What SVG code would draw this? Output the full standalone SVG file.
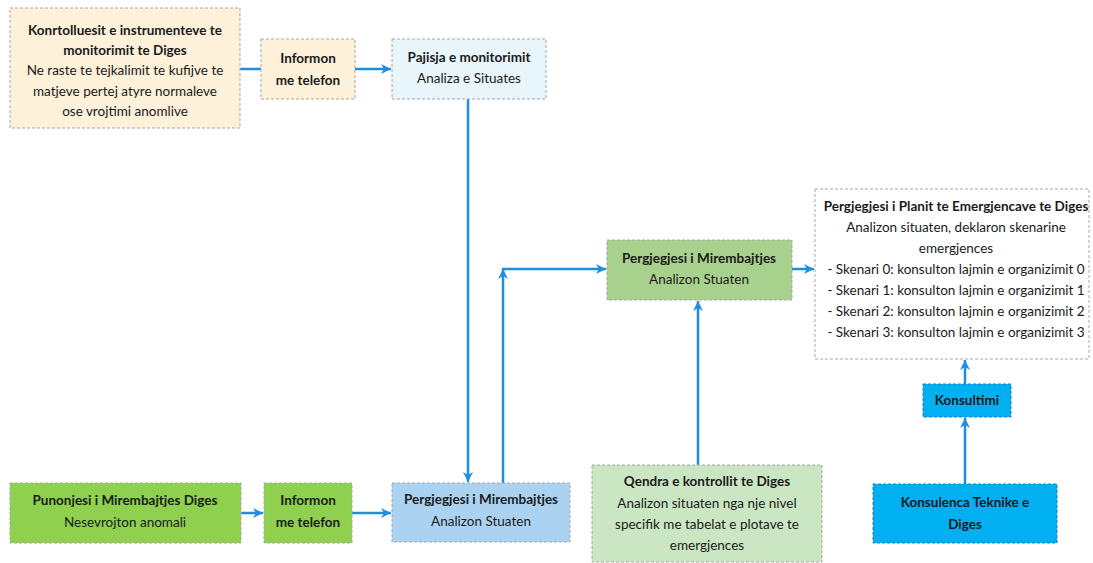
<svg xmlns="http://www.w3.org/2000/svg" width="1093" height="563" viewBox="0 0 1093 563">
<style>
  .box { stroke: #a6a6a6; stroke-width: 1; stroke-dasharray: 3 2; }
  .t { font-family: Lato, "Liberation Sans", sans-serif; font-size: 13.5px; fill: #1a1a1a; text-anchor: middle; }
  .b { font-weight: bold; }
  .c { fill: none; stroke: #1e8fe0; stroke-width: 2.5; }
  .peach { fill: #fdf1da; }
  .pale { fill: #e8f5fb; }
  .lime { fill: #8fd14f; }
  .sky { fill: #acd2f1; }
  .mid { fill: #a9d18e; }
  .mint { fill: #cbe6c2; }
  .white { fill: #ffffff; }
  .cyan { fill: #00b0f0; stroke: #1a7fc0; }
</style>
<defs>
  <marker id="ah" markerUnits="userSpaceOnUse" markerWidth="11" markerHeight="10" refX="10" refY="5" orient="auto">
    <path d="M0,0 L10,5 L0,10 L3,5 z" fill="#1e8fe0"/>
  </marker>
</defs>
<rect width="1093" height="563" fill="#ffffff"/>

<g id="connectors">
  <line class="c" x1="240" y1="69" x2="261" y2="69"/>
  <line class="c" x1="355" y1="69" x2="391" y2="69" marker-end="url(#ah)"/>
  <line class="c" x1="468" y1="99" x2="468" y2="482" marker-end="url(#ah)"/>
  <line class="c" x1="241" y1="513" x2="263" y2="513" marker-end="url(#ah)"/>
  <line class="c" x1="352" y1="513" x2="391" y2="513" marker-end="url(#ah)"/>
  <line class="c" x1="503" y1="483" x2="503" y2="269" marker-end="url(#ah)"/>
  <line class="c" x1="502" y1="269" x2="606" y2="269" marker-end="url(#ah)"/>
  <line class="c" x1="792" y1="269" x2="814" y2="269" marker-end="url(#ah)"/>
  <line class="c" x1="698" y1="465" x2="698" y2="301" marker-end="url(#ah)"/>
  <line class="c" x1="965" y1="384" x2="965" y2="360" marker-end="url(#ah)"/>
  <line class="c" x1="965" y1="484" x2="965" y2="418" marker-end="url(#ah)"/>
</g>

<g id="kontrolluesit">
  <rect class="box peach" x="10" y="8" width="230" height="120"/>
  <text class="t b" x="125" y="35">Konrtolluesit e instrumenteve te</text>
  <text class="t b" x="125" y="55">monitorimit te Diges</text>
  <text class="t" x="125" y="75">Ne raste te tejkalimit te kufijve te</text>
  <text class="t" x="125" y="96">matjeve pertej atyre normaleve</text>
  <text class="t" x="125" y="116">ose vrojtimi anomlive</text>
</g>

<g id="informon-top">
  <rect class="box peach" x="261" y="39" width="94" height="60"/>
  <text class="t b" x="308" y="63">Informon</text>
  <text class="t b" x="308" y="85">me telefon</text>
</g>

<g id="pajisja">
  <rect class="box pale" x="392" y="39" width="154" height="60"/>
  <text class="t b" x="469" y="62">Pajisja e monitorimit</text>
  <text class="t" x="469" y="83">Analiza e Situates</text>
</g>

<g id="pergjegjesi-mid">
  <rect class="box mid" x="607" y="240" width="185" height="60"/>
  <text class="t b" x="699" y="263">Pergjegjesi i Mirembajtjes</text>
  <text class="t" x="699" y="284">Analizon Stuaten</text>
</g>

<g id="plani">
  <rect class="box white" x="815" y="189" width="274" height="170"/>
  <text class="t b" x="956" y="211">Pergjegjesi i Planit te Emergjencave te Diges</text>
  <text class="t" x="956" y="232">Analizon situaten, deklaron skenarine</text>
  <text class="t" x="956" y="253">emergjences</text>
  <text class="t" x="956" y="274">- Skenari 0: konsulton lajmin e organizimit 0</text>
  <text class="t" x="956" y="295">- Skenari 1: konsulton lajmin e organizimit 1</text>
  <text class="t" x="956" y="316">- Skenari 2: konsulton lajmin e organizimit 2</text>
  <text class="t" x="956" y="337">- Skenari 3: konsulton lajmin e organizimit 3</text>
</g>

<g id="konsultimi">
  <rect class="box cyan" x="923" y="384" width="88" height="33"/>
  <text class="t b" x="967" y="405">Konsultimi</text>
</g>

<g id="punonjesi">
  <rect class="box lime" x="10" y="483" width="231" height="60"/>
  <text class="t b" x="125" y="505">Punonjesi  i Mirembajtjes Diges</text>
  <text class="t" x="125" y="527">Nesevrojton anomali</text>
</g>

<g id="informon-bottom">
  <rect class="box lime" x="264" y="483" width="88" height="60"/>
  <text class="t b" x="308" y="505">Informon</text>
  <text class="t b" x="308" y="527">me telefon</text>
</g>

<g id="pergjegjesi-bottom">
  <rect class="box sky" x="392" y="483" width="178" height="59"/>
  <text class="t b" x="481" y="504">Pergjegjesi i Mirembajtjes</text>
  <text class="t" x="481" y="526">Analizon Stuaten</text>
</g>

<g id="qendra">
  <rect class="box mint" x="592" y="465" width="230" height="97"/>
  <text class="t b" x="707" y="486">Qendra e kontrollit te Diges</text>
  <text class="t" x="707" y="508">Analizon situaten nga nje nivel</text>
  <text class="t" x="707" y="529">specifik me tabelat e plotave te</text>
  <text class="t" x="707" y="550">emergjences</text>
</g>

<g id="konsulenca">
  <rect class="box cyan" x="873" y="484" width="184" height="59"/>
  <text class="t b" x="965" y="507">Konsulenca  Teknike e</text>
  <text class="t b" x="965" y="529">Diges</text>
</g>
</svg>
